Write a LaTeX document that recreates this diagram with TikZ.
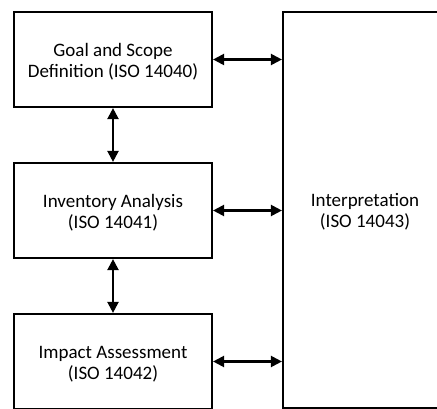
\documentclass[tikz,border=0pt]{standalone}
\usepackage{fontspec}
\setmainfont{Carlito}
\usetikzlibrary{arrows.meta}
\newcommand\boxtext[2]{\raisebox{-3pt}[\height][\depth]{\begin{tabular}{@{}c@{}}#1\\#2\end{tabular}}}
\begin{document}
\begin{tikzpicture}[x=1pt,y=-1pt,
  box/.style={draw, line width=2.2pt, font=\fontsize{19}{21}\selectfont, inner sep=0pt},
  link/.style={line width=2.2pt, {Triangle[length=11pt,width=11pt]}-{Triangle[length=11pt,width=11pt]}}]
\useasboundingbox[clip] (0,0) rectangle (437,409);
\node[box, minimum width=198pt, minimum height=95pt] (goal) at (113,59.5) {\boxtext{Goal and Scope}{Definition (ISO 14040)}};
\node[box, minimum width=198pt, minimum height=95pt] (inv) at (113,210.5) {\boxtext{Inventory Analysis}{(ISO 14041)}};
\node[box, minimum width=198pt, minimum height=95pt] (imp) at (113,361.5) {\boxtext{Impact Assessment}{(ISO 14042)}};
\node[box, minimum width=164pt, minimum height=396pt] (interp) at (365,210) {\boxtext{Interpretation}{(ISO 14043)}};
\draw[link] (goal.south) -- (inv.north);
\draw[link] (inv.south) -- (imp.north);
\draw[link] (goal.east) -- (goal.east -| interp.west);
\draw[link] (inv.east) -- (inv.east -| interp.west);
\draw[link] (imp.east) -- (imp.east -| interp.west);
\end{tikzpicture}
\end{document}
